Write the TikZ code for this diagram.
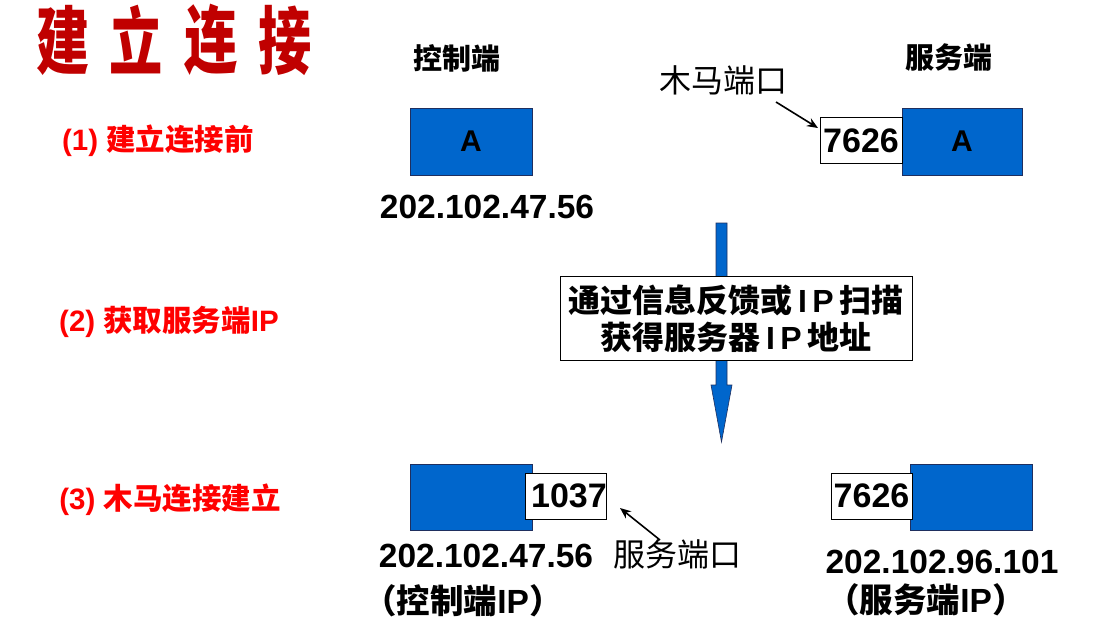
\documentclass[tikz,border=0pt]{standalone}
\usepackage{fontspec}
\setmainfont{Liberation Sans}
\newfontfamily\cjk{Noto Sans CJK SC}
\usetikzlibrary{arrows.meta,calc}
\definecolor{myblue}{HTML}{0066CC}
\definecolor{boxedge}{HTML}{1F2F5F}
\definecolor{titlered}{HTML}{C00000}
\definecolor{labelred}{HTML}{FF0000}
\newcommand{\fs}[1]{\fontsize{#1}{#1}\selectfont}
\tikzset{
  bluebox/.style={fill=myblue, draw=boxedge, line width=1pt, minimum width=122, minimum height=67, inner sep=0pt, font=\fs{30}\bfseries},
  portbox/.style={fill=white, draw=black, line width=0.9pt, minimum width=82, minimum height=46, inner sep=0pt, font=\fs{34}\bfseries},
  titlechar/.style={text=titlered, inner sep=0pt, font=\cjk\bfseries\fs{74}, xscale=0.72},
  steplabel/.style={text=labelred, inner sep=0pt, font=\fs{29.5}\bfseries},
  sidehead/.style={inner sep=0pt, font=\cjk\bfseries\fs{29}},
  iplabel/.style={inner sep=0pt, font=\fs{33.5}\bfseries},
  portname/.style={inner sep=0pt, font=\cjk\fs{32}},
  pointer/.style={-{Stealth[length=11pt,width=9pt]}, line width=1.6pt, black},
}
\begin{document}
\begin{tikzpicture}[x=1pt,y=-1pt]
\useasboundingbox (0,0) rectangle (1100,633);
% title
\node[titlechar] (t1) at (63,40) {建};
\node[titlechar] (t2) at (136,40) {立};
\node[titlechar] (t3) at (211,40) {连};
\node[titlechar] (t4) at (285,40) {接};
% step labels
\node[steplabel] (s1) at (158,141) {(1) {\cjk\bfseries 建立连接前}};
\node[steplabel] (s2) at (169,322) {(2) {\cjk\bfseries 获取服务端}IP};
\node[steplabel] (s3) at (170,500) {(3) {\cjk\bfseries 木马连接建立}};
% headings
\node[sidehead] (hc) at (457,58) {控制端};
\node[sidehead] (hs) at (949,58) {服务端};
\node[portname] (mm) at (723,80) {木马端口};
% row 1
\node[bluebox] (a1) at (471,141.5) {A};
\node[bluebox, minimum width=120] (a2) at (962,141.5) {A};
\node[portbox] (p1) at (861,140.5) {7626};
\node[iplabel] (ip1) at (487,207) {202.102.47.56};
\coordinate (m1) at (776,102);
\coordinate (m2) at (818,128);
\draw[pointer] (m1) -- (m2);
% blue arrow
\filldraw[fill=myblue, draw=boxedge, line width=0.6pt]
  (716,223) -- (727,223) -- (727,385) -- (732,385) -- (721.5,442) -- (711,385) -- (716,385) -- cycle;
\node[draw=black, line width=0.9pt, fill=white, minimum width=352, minimum height=84, inner sep=0pt, align=center, font=\cjk\bfseries\fontsize{32}{37}\selectfont] (info) at (736,318.5)
  {通过信息反馈或\,{\rmfamily\bfseries I\,P}\,扫描\\获得服务器\,{\rmfamily\bfseries I\,P}\,地址};
% row 3
\node[bluebox, minimum height=66] (b1) at (471,497) {};
\node[portbox, minimum width=80] (p2) at (566,496) {\hspace{6pt}1037};
\node[bluebox, minimum height=66] (b2) at (971,497) {};
\node[portbox, minimum width=81] (p3) at (871.5,496) {7626};
\node[iplabel] (ip2) at (486,556) {202.102.47.56};
\node[iplabel] (ipc) at (463,601) {{\cjk\bfseries （控制端}IP{\cjk\bfseries ）}};
\node[iplabel] (ip3) at (942,562) {202.102.96.101};
\node[iplabel] (ips) at (926,600) {{\cjk\bfseries （服务端}IP{\cjk\bfseries ）}};
\node[portname] (fw) at (677,554) {服务端口};
\coordinate (f1) at (660,540);
\coordinate (f2) at (620,508);
\draw[pointer] (f1) -- (f2);
\end{tikzpicture}
\end{document}
